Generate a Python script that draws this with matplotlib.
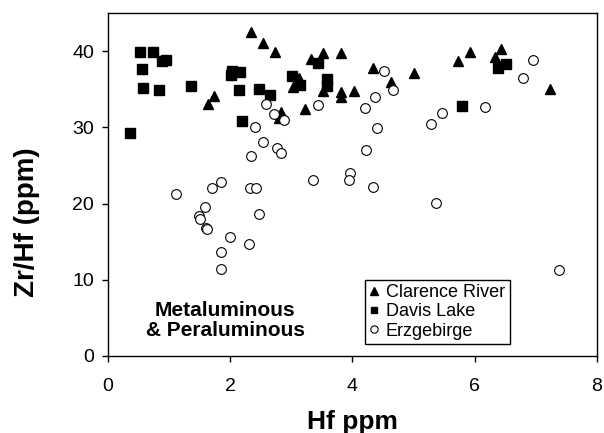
import matplotlib
matplotlib.use("Agg")
import matplotlib.pyplot as plt

plt.rcParams['font.family'] = ['Liberation Sans', 'DejaVu Sans']

# Clarence River (triangles)
cr_hf = [2.34, 2.54, 2.73, 1.73, 1.63, 3.32, 3.52, 3.82, 4.33, 5.01, 4.63, 3.13, 3.03,
         3.52, 3.82, 3.82, 4.03, 3.22, 2.83, 2.80, 5.92, 5.73, 6.43, 6.33, 7.23]
cr_zrhf = [42.5, 41.1, 39.9, 34.1, 33.0, 39.0, 39.7, 39.7, 37.8, 37.1, 36.0, 36.5, 35.3,
           34.8, 34.6, 34.0, 34.7, 32.4, 32.0, 31.2, 39.9, 38.7, 40.3, 39.2, 35.0]

# Davis Lake (squares)
dl_hf = [0.36, 0.53, 0.73, 0.88, 0.94, 0.56, 0.57, 0.83, 1.36, 2.03, 2.16, 2.01,
         2.15, 2.47, 2.65, 2.19, 3.44, 3.01, 3.14, 3.58, 3.58, 6.38, 6.51, 5.80]
dl_zrhf = [29.3, 39.9, 39.9, 38.7, 38.8, 37.6, 35.1, 34.9, 35.4, 37.4, 37.2, 36.8,
           34.9, 35.0, 34.2, 30.8, 38.4, 36.7, 35.6, 36.3, 35.4, 37.8, 38.3, 32.8]

# Erzgebirge (open circles)
ez_hf = [2.58, 2.41, 2.54, 2.34, 1.85, 1.70, 1.11, 2.33, 2.42, 2.72, 2.88, 3.43,
         4.52, 4.66, 4.37, 4.20, 4.40, 2.76, 2.83, 4.22, 3.35, 3.96, 3.95, 4.34,
         5.28, 6.96, 6.80, 6.17, 5.47, 5.36, 1.59, 1.48, 1.50, 1.61, 1.62, 2.47,
         2.00, 2.31, 1.85, 1.85, 7.39]
ez_zrhf = [33.1, 30.1, 28.1, 26.2, 22.8, 22.0, 21.2, 22.0, 22.0, 31.8, 31.0, 32.9,
           37.4, 34.9, 34.0, 32.5, 29.9, 27.3, 26.6, 27.0, 23.1, 24.0, 23.1, 22.2,
           30.4, 38.8, 36.5, 32.7, 31.9, 20.1, 19.6, 18.3, 18.0, 16.8, 16.6, 18.6,
           15.6, 14.7, 13.6, 11.4, 11.3]

fig = plt.figure(figsize=(6.04, 4.33), dpi=100)
ax = fig.add_axes([0.179, 0.178, 0.809, 0.792])

ax.plot(cr_hf, cr_zrhf, '^', color='black', markersize=7.5, linestyle='none',
        label='Clarence River')
ax.plot(dl_hf, dl_zrhf, 's', color='black', markersize=6.5, linestyle='none',
        label='Davis Lake')
ax.plot(ez_hf, ez_zrhf, 'o', markerfacecolor='white', markeredgecolor='black',
        markeredgewidth=0.8, markersize=7, linestyle='none', label='Erzgebirge')

ax.set_xlim(0, 8)
ax.set_ylim(0, 45)
ax.set_xticks([0, 2, 4, 6, 8])
ax.set_yticks([0, 10, 20, 30, 40])
ax.tick_params(direction='out', length=4, width=1, labelsize=14)
ax.tick_params(axis='x', pad=12)
ax.tick_params(axis='y', pad=6)
for s in ax.spines.values():
    s.set_linewidth(1)
    s.set_color('black')

ax.set_xlabel('Hf ppm', fontsize=19, fontweight='bold', labelpad=11)
ax.set_ylabel('Zr/Hf (ppm)', fontsize=20, fontweight='bold')
ax.yaxis.set_label_coords(-0.139, 0.39)

ax.text(1.915, 4.6, 'Metaluminous\n& Peraluminous', ha='center', va='center',
        fontsize=15, fontweight='bold', linespacing=1.05)

leg = ax.legend(loc='upper left', bbox_to_anchor=(0.526, 0.222), fontsize=13,
                frameon=True, fancybox=False, edgecolor='black', framealpha=1,
                handlelength=0.5, handletextpad=0.4, borderpad=0.25,
                labelspacing=0.12, borderaxespad=0, markerscale=0.75)
leg.get_frame().set_linewidth(1)

fig.savefig('out.png', dpi=100)
